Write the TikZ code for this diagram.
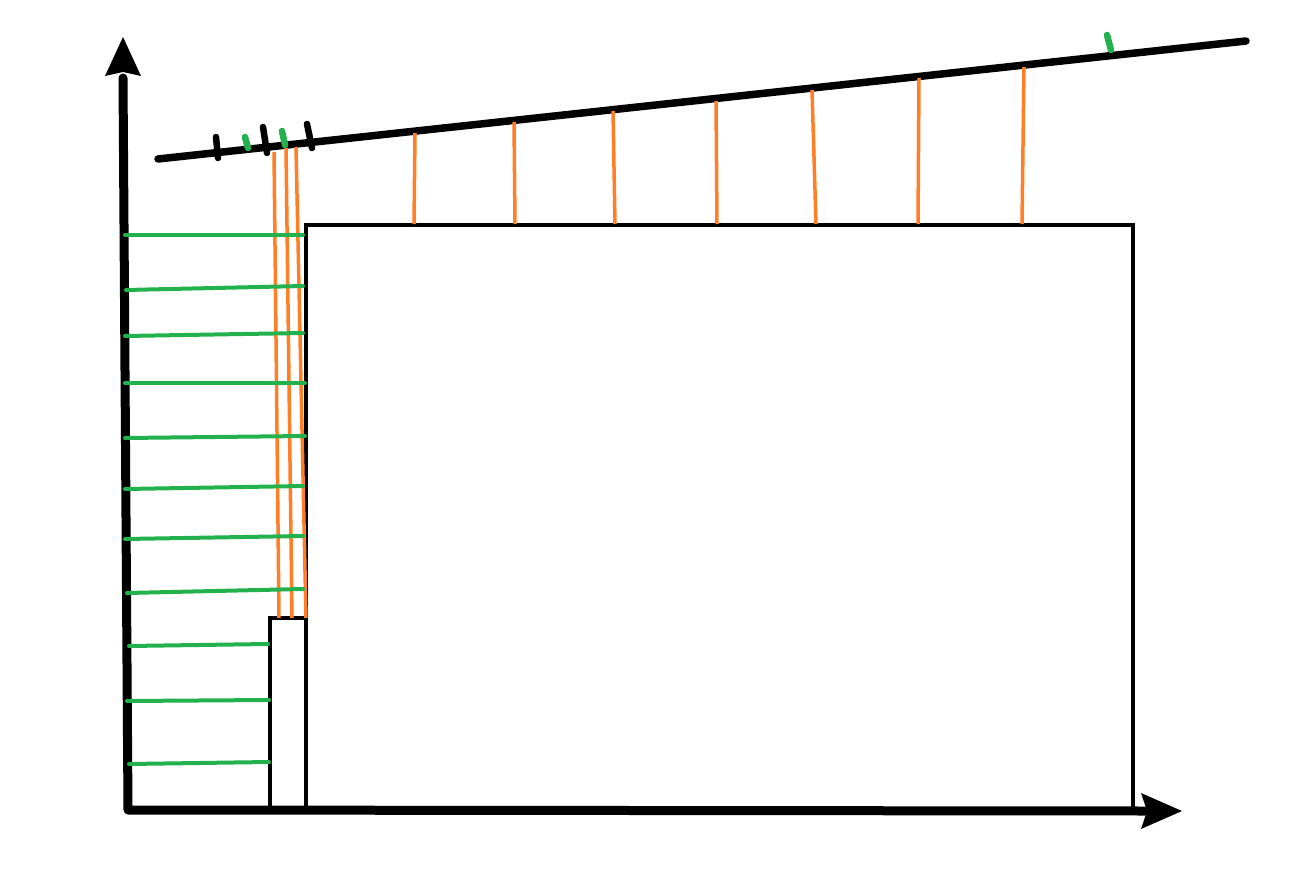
\documentclass[tikz,border=0pt]{standalone}
\begin{document}
\begin{tikzpicture}[x=1pt,y=-1pt,
  axis/.style={line width=9pt,line cap=round,line join=round},
  head/.style={fill=black,draw=none},
  roof/.style={line width=7.5pt,line cap=round},
  btick/.style={line width=6.5pt,line cap=round},
  gtick/.style={line width=6.5pt,line cap=round,draw=pgreen},
  box/.style={line width=3.5pt,line join=miter},
  ol/.style={line width=3.5pt,draw=porange},
  gl/.style={line width=4pt,draw=pgreen,line cap=round}]
\definecolor{pgreen}{RGB}{34,177,76}
\definecolor{porange}{RGB}{255,127,39}
\useasboundingbox (0,0) rectangle (1296,880);
% axes
\draw[axis] (123,78) -- (128,810) -- (1145,811);
\fill[head] (123,37) -- (141,76) -- (123,72) -- (105,76) -- cycle;
\fill[head] (1182,811) -- (1141,829) -- (1147,811) -- (1141,793) -- cycle;
% roof line
\draw[roof] (158,159) -- (1246,41);
% boxes
\draw[box] (306,808) -- (306,225) -- (1133,225) -- (1133,808);
\draw[box] (270,808) -- (270,618) -- (306,618);
% orange lines
\draw[ol] (415,133) -- (414,224);
\draw[ol] (514,122) -- (515,224);
\draw[ol] (613,111) -- (615,224);
\draw[ol] (716,101) -- (717,224);
\draw[ol] (812,90) -- (816,224);
\draw[ol] (919,78) -- (918,224);
\draw[ol] (1024,67) -- (1022,224);
\draw[ol] (274,152) -- (279,618);
\draw[ol] (286,148) -- (292,618);
\draw[ol] (296,147) -- (306,618);
% ticks
\draw[btick] (216,137) -- (218,158);
\draw[btick] (263,127) -- (267,153);
\draw[btick] (307,124) -- (312,148);
\draw[gtick] (245,137) -- (248,148);
\draw[gtick] (282,131) -- (285,145);
\draw[gtick] (1107,35) -- (1111,50);
% green horizontals
\draw[gl] (125,235) -- (303,235);
\draw[gl] (126,290) -- (303,286);
\draw[gl] (125,336) -- (303,333);
\draw[gl] (125,383) -- (305,383);
\draw[gl] (125,438) -- (305,436);
\draw[gl] (125,489) -- (303,486);
\draw[gl] (125,539) -- (303,536);
\draw[gl] (127,593) -- (303,589);
\draw[gl] (129,646) -- (268,644);
\draw[gl] (127,701) -- (269,700);
\draw[gl] (129,764) -- (269,762);
\end{tikzpicture}
\end{document}
